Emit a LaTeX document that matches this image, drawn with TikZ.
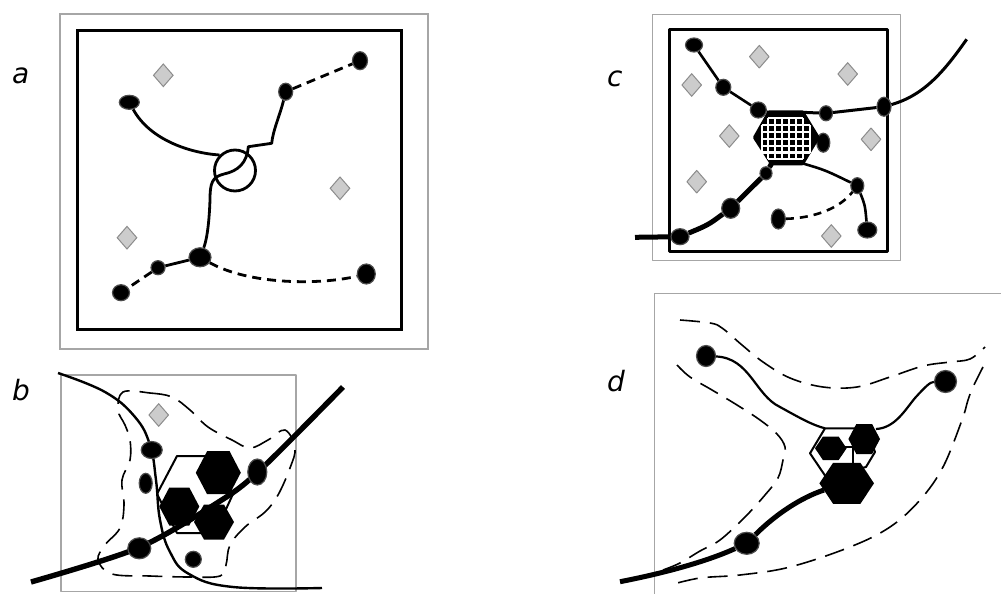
\documentclass[tikz,border=0pt]{standalone}
\usepackage{fontspec}
\setsansfont{DejaVu Sans}
\usetikzlibrary{shapes.geometric}
\newlength{\du}
\setlength{\du}{0.5pt}
\definecolor{spotgray}{rgb}{0.800000, 0.800000, 0.800000}
\definecolor{spotedge}{rgb}{0.550000, 0.550000, 0.550000}
\definecolor{framegray}{rgb}{0.650000, 0.650000, 0.650000}
\tikzset{
  blob/.style={ellipse, fill=black, draw=black!70, line width=1.200000\du, inner sep=0pt},
  spot/.style={diamond, fill=spotgray, draw=spotedge, line width=1.000000\du, inner sep=0pt,
    minimum width=20.000000\du, minimum height=23.000000\du},
  hubring/.style={circle, draw=black, line width=2.800000\du, inner sep=0pt, minimum size=41.000000\du},
  panelname/.style={font=\sffamily\itshape\fontsize{14}{16}\selectfont, inner sep=0pt, anchor=base west},
}
\begin{document}
\begin{tikzpicture}
\pgftransformxscale{1.000000}
\pgftransformyscale{-1.000000}
\useasboundingbox (0\du,0\du) rectangle (1001\du,594\du);
% setfont left to latex
\node[panelname] (labela) at (11.700000\du,83.300000\du) {a};
\node[panelname] (labelb) at (11.700000\du,400.000000\du) {b};
\node[panelname] (labelc) at (606.700000\du,86.000000\du) {c};
\node[panelname] (labeld) at (606.700000\du,391.700000\du) {d};
%%%%%%%%%%%%%%%%%%%%%%%%%%%%%%%% panel a
\pgfsetdash{}{0pt}
\pgfsetlinewidth{1.200000\du}
\draw[framegray] (60.000000\du,14.000000\du) rectangle (428.000000\du,349.000000\du);
\pgfsetlinewidth{3.000000\du}
\pgfsetmiterjoin
\draw[black] (77.700000\du,30.000000\du) rectangle (401.700000\du,329.300000\du);
\node[spot] (aspot1) at (163.300000\du,75.300000\du) {};
\node[spot] (aspot2) at (340.000000\du,188.300000\du) {};
\node[spot] (aspot3) at (127.000000\du,237.700000\du) {};
\node[hubring] (ahub) at (235.000000\du,170.500000\du) {};
\node[blob, minimum width=20\du, minimum height=14\du] (aroot1) at (129.300000\du,102.300000\du) {};
\node[blob, minimum width=15\du, minimum height=18\du] (aroot2) at (360.000000\du,60.700000\du) {};
\node[blob, minimum width=14\du, minimum height=17\du] (aroot3) at (285.700000\du,91.700000\du) {};
\node[blob, minimum width=14\du, minimum height=14\du] (aroot4) at (158.000000\du,267.700000\du) {};
\node[blob, minimum width=22\du, minimum height=19\du] (aroot5) at (200.000000\du,257.300000\du) {};
\node[blob, minimum width=17\du, minimum height=16\du] (aroot6) at (121.000000\du,292.700000\du) {};
\node[blob, minimum width=18\du, minimum height=20\du] (aroot7) at (366.300000\du,274.000000\du) {};
\coordinate (aknee) at (271.700000\du,143.300000\du);
\coordinate (aentry) at (248.300000\du,146.700000\du);
\pgfsetlinewidth{2.800000\du}
\pgfsetroundjoin
{
\draw[black] (aroot1) .. controls (150.000000\du,140.000000\du) and (190.000000\du,153.000000\du) .. (ahub.135);
}
{
\draw[black] (aroot3) .. controls (280.000000\du,115.000000\du) and (273.000000\du,130.000000\du) .. (aknee) -- (aentry)
  .. controls (247.000000\du,163.000000\du) and (238.000000\du,171.000000\du) .. (224.000000\du,174.000000\du)
  .. controls (212.000000\du,177.000000\du) and (210.000000\du,183.000000\du) .. (210.000000\du,200.000000\du)
  .. controls (209.000000\du,228.000000\du) and (206.000000\du,242.000000\du) .. (aroot5);
}
{
\draw[black] (aroot5) -- (aroot4);
}
\pgfsetdash{{9.000000\du}{6.000000\du}}{0\du}
{
\draw[black] (aroot4) -- (aroot6);
\draw[black] (aroot5) .. controls (250.000000\du,285.000000\du) and (320.000000\du,285.000000\du) .. (aroot7);
\draw[black] (aroot3) -- (aroot2);
}
\pgfsetdash{}{0pt}
%%%%%%%%%%%%%%%%%%%%%%%%%%%%%%%% panel b
\pgfsetlinewidth{1.200000\du}
\draw[framegray] (61.000000\du,375.000000\du) rectangle (296.000000\du,591.700000\du);
\pgfsetlinewidth{1.600000\du}
\pgfsetdash{{20.000000\du}{10.000000\du}}{0\du}
\draw[black] plot[smooth cycle, tension=0.6] coordinates {(123\du,392\du) (150\du,393\du) (172\du,397\du) (190\du,410\du)
  (208\du,427\du) (232\du,440\du) (250\du,448\du) (268\du,440\du) (285\du,430\du) (295\du,448\du) (290\du,468\du)
  (278\du,495\du) (265\du,512\du) (245\du,527\du) (230\du,545\du) (226\du,565\du) (220\du,576\du) (190\du,577\du)
  (150\du,576\du) (112\du,574\du) (98\du,560\du) (105\du,545\du) (120\du,528\du) (124\du,505\du) (122\du,480\du)
  (130\du,460\du) (130\du,440\du) (125\du,425\du) (118\du,410\du)};
\pgfsetdash{}{0pt}
\pgfsetlinewidth{2.000000\du}
\draw[black] (157.000000\du,494.000000\du) -- (177.000000\du,456.000000\du) -- (215.000000\du,456.000000\du)
  -- (233.000000\du,494.000000\du) -- (215.000000\du,533.000000\du) -- (177.000000\du,533.000000\du) -- cycle;
\fill[black] (195.800000\du,472.700000\du) -- (207.100000\du,451.200000\du) -- (229.600000\du,451.200000\du)
  -- (240.800000\du,472.700000\du) -- (229.600000\du,494.200000\du) -- (207.100000\du,494.200000\du) -- cycle;
\fill[black] (159.300000\du,506.500000\du) -- (169.300000\du,487.500000\du) -- (189.300000\du,487.500000\du)
  -- (199.300000\du,506.500000\du) -- (189.300000\du,525.500000\du) -- (169.300000\du,525.500000\du) -- cycle;
\fill[black] (194.000000\du,522.000000\du) -- (204.000000\du,504.500000\du) -- (224.000000\du,504.500000\du)
  -- (234.000000\du,522.000000\du) -- (224.000000\du,539.500000\du) -- (204.000000\du,539.500000\du) -- cycle;
\pgfsetlinewidth{2.400000\du}
\draw[black] plot[smooth, tension=0.7] coordinates {(58\du,373\du) (105\du,392\du) (135\du,417\du) (150\du,445\du)
  (156\du,480\du) (160\du,520\du) (170\du,552\du) (189\du,574\du) (233\du,587\du) (322\du,588\du)};
\pgfsetlinewidth{5.400000\du}
\draw[black] plot[smooth] coordinates {(31\du,582\du) (138\du,548\du) (217\du,503\du) (258\du,472\du) (343\du,387\du)};
\node[spot] (bspot) at (158.700000\du,415.000000\du) {};
\node[blob, minimum width=21\du, minimum height=17\du] (bdot1) at (151.700000\du,450.000000\du) {};
\node[blob, minimum width=13\du, minimum height=20\du] (bdot2) at (145.700000\du,483.300000\du) {};
\node[blob, minimum width=23\du, minimum height=21\du] (bdot3) at (139.300000\du,548.300000\du) {};
\node[blob, minimum width=16\du, minimum height=16\du] (bdot4) at (193.300000\du,559.300000\du) {};
\node[blob, minimum width=19\du, minimum height=26\du] (bdot5) at (257.300000\du,472.000000\du) {};
%%%%%%%%%%%%%%%%%%%%%%%%%%%%%%%% panel c
\pgfsetlinewidth{1.200000\du}
\draw[framegray] (652.700000\du,14.300000\du) rectangle (900.700000\du,260.700000\du);
\pgfsetlinewidth{3.000000\du}
\draw[black] (669.300000\du,29.300000\du) rectangle (887.700000\du,251.700000\du);
\node[spot] (cspot1) at (759.300000\du,56.700000\du) {};
\node[spot] (cspot2) at (691.700000\du,85.000000\du) {};
\node[spot] (cspot3) at (847.700000\du,74.000000\du) {};
\node[spot] (cspot4) at (729.300000\du,136.000000\du) {};
\node[spot] (cspot5) at (871.000000\du,139.300000\du) {};
\node[spot] (cspot6) at (696.700000\du,181.700000\du) {};
\node[spot] (cspot7) at (831.300000\du,236.000000\du) {};
\node[blob, minimum width=17\du, minimum height=14\du] (cnode1) at (694.000000\du,45.000000\du) {};
\node[blob, minimum width=15\du, minimum height=16\du] (cnode2) at (723.300000\du,87.300000\du) {};
\node[blob, minimum width=16\du, minimum height=16\du] (cnode3) at (758.300000\du,110.000000\du) {};
\node[blob, minimum width=13\du, minimum height=15\du] (cnode4) at (826.000000\du,113.300000\du) {};
\node[blob, minimum width=14\du, minimum height=19\du] (cnode5) at (884.000000\du,106.700000\du) {};
\node[blob, minimum width=13\du, minimum height=19\du] (cnode6) at (823.300000\du,142.700000\du) {};
\node[blob, minimum width=12\du, minimum height=13\du] (cnode7) at (766.000000\du,173.300000\du) {};
\node[blob, minimum width=18\du, minimum height=20\du] (cnode8) at (730.700000\du,208.300000\du) {};
\node[blob, minimum width=18\du, minimum height=16\du] (cnode9) at (680.000000\du,236.700000\du) {};
\node[blob, minimum width=14\du, minimum height=20\du] (cnode10) at (778.300000\du,219.000000\du) {};
\node[blob, minimum width=13\du, minimum height=16\du] (cnode11) at (857.300000\du,185.700000\du) {};
\node[blob, minimum width=19\du, minimum height=16\du] (cnode12) at (867.300000\du,230.000000\du) {};
\coordinate (chexTL) at (769.300000\du,112.300000\du);
\coordinate (chexTR) at (802.300000\du,112.300000\du);
\coordinate (chexBL) at (771.700000\du,163.300000\du);
\coordinate (chexBR) at (802.300000\du,163.300000\du);
\coordinate (cfar) at (966.700000\du,39.300000\du);
\coordinate (cedge) at (635.000000\du,237.300000\du);
\pgfsetlinewidth{2.600000\du}
{
\draw[black] (cnode1) -- (cnode2) -- (cnode3) -- (chexTL);
\draw[black] (chexBR) .. controls (825.000000\du,170.000000\du) .. (cnode11) .. controls (865.000000\du,205.000000\du) .. (cnode12);
}
\pgfsetlinewidth{3.000000\du}
{
\draw[black] (chexTR) -- (cnode4) -- (cnode5) .. controls (925.000000\du,95.000000\du) and (945.000000\du,70.000000\du) .. (cfar);
}
\pgfsetlinewidth{5.000000\du}
{
\draw[black] (chexBL) -- (cnode7) -- (cnode8) .. controls (708.000000\du,225.000000\du) .. (cnode9) -- (cedge);
}
\pgfsetlinewidth{2.600000\du}
\pgfsetdash{{8.000000\du}{6.000000\du}}{0\du}
{
\draw[black] (cnode10) .. controls (815.000000\du,218.000000\du) and (840.000000\du,208.000000\du) .. (cnode11);
}
\pgfsetdash{}{0pt}
\pgfsetlinewidth{4.000000\du}
\filldraw[fill=black, draw=black] (755.000000\du,137.500000\du) -- (chexTL) -- (chexTR) -- (817.700000\du,137.500000\du)
  -- (chexBR) -- (chexBL) -- cycle;
\pgfsetlinewidth{2.200000\du}
\pgfsetbuttcap
\draw[white] (768.300000\du,118.300000\du) -- (768.300000\du,159.000000\du);
\draw[white] (775.300000\du,118.300000\du) -- (775.300000\du,159.000000\du);
\draw[white] (782.300000\du,118.300000\du) -- (782.300000\du,159.000000\du);
\draw[white] (789.300000\du,118.300000\du) -- (789.300000\du,159.000000\du);
\draw[white] (796.300000\du,118.300000\du) -- (796.300000\du,159.000000\du);
\draw[white] (803.300000\du,118.300000\du) -- (803.300000\du,159.000000\du);
\draw[white] (762.300000\du,125.300000\du) -- (762.300000\du,152.500000\du);
\draw[white] (810.000000\du,125.300000\du) -- (810.000000\du,152.500000\du);
\draw[white] (768.300000\du,118.300000\du) -- (803.300000\du,118.300000\du);
\draw[white] (762.300000\du,125.300000\du) -- (810.000000\du,125.300000\du);
\draw[white] (762.300000\du,132.100000\du) -- (810.000000\du,132.100000\du);
\draw[white] (762.300000\du,138.900000\du) -- (810.000000\du,138.900000\du);
\draw[white] (762.300000\du,145.700000\du) -- (810.000000\du,145.700000\du);
\draw[white] (762.300000\du,152.500000\du) -- (810.000000\du,152.500000\du);
\draw[white] (768.300000\du,159.000000\du) -- (803.300000\du,159.000000\du);
%%%%%%%%%%%%%%%%%%%%%%%%%%%%%%%% panel d
\pgfsetlinewidth{1.200000\du}
\pgfsetmiterjoin
\draw[framegray] (654.300000\du,594.000000\du) -- (654.300000\du,293.300000\du) -- (1001.000000\du,293.300000\du);
\pgfsetlinewidth{1.600000\du}
\pgfsetdash{{20.000000\du}{10.000000\du}}{0\du}
\draw[black] plot[smooth, tension=0.6] coordinates {(680\du,320\du) (710\du,323\du) (722\du,328\du) (742\du,345\du)
  (763\du,362\du) (790\du,378\du) (823\du,387\du) (857\du,387\du) (890\du,377\du) (923\du,366\du) (950\du,362\du)
  (970\du,359\du) (985\du,347\du)};
\draw[black] plot[smooth, tension=0.6] coordinates {(983\du,367\du) (973\du,387\du) (968\du,400\du) (962\du,420\du)
  (943\du,467\du) (920\du,500\du) (890\du,527\du) (850\du,547\du) (790\du,567\du) (740\du,575\du) (700\du,578\du)
  (670\du,585\du)};
\draw[black] plot[smooth, tension=0.6] coordinates {(677\du,365\du) (690\du,377\du) (712\du,390\du) (737\du,405\du)
  (760\du,420\du) (777\du,434\du) (785\du,447\du) (783\du,460\du) (778\du,478\du) (765\du,495\du) (745\du,517\du)
  (720\du,540\du) (700\du,551\du) (680\du,563\du) (663\du,570\du)};
\pgfsetdash{}{0pt}
\coordinate (dhexTL) at (825.000000\du,428.300000\du);
\coordinate (dhexTR) at (876.000000\du,429.000000\du);
\coordinate (dhexlow) at (824.000000\du,490.000000\du);
\coordinate (dedge) at (620.000000\du,581.700000\du);
\node[blob, minimum width=19\du, minimum height=21\du] (ddot1) at (706.000000\du,356.000000\du) {};
\node[blob, minimum width=22\du, minimum height=22\du] (ddot2) at (945.500000\du,381.500000\du) {};
\node[blob, minimum width=25\du, minimum height=22\du] (ddot3) at (746.700000\du,543.300000\du) {};
\pgfsetlinewidth{2.200000\du}
\pgfsetroundjoin
{
\draw[black] (ddot1) .. controls (750.000000\du,358.000000\du) and (755.000000\du,395.000000\du) .. (780.000000\du,407.000000\du)
  .. controls (800.000000\du,418.000000\du) and (812.000000\du,425.000000\du) .. (dhexTL);
\draw[black] (dhexTR) .. controls (895.000000\du,428.000000\du) and (905.000000\du,410.000000\du) .. (915.000000\du,398.000000\du)
  .. controls (925.000000\du,387.000000\du) and (930.000000\du,382.000000\du) .. (ddot2);
}
\pgfsetlinewidth{5.000000\du}
{
\draw[black] (dhexlow) .. controls (800.000000\du,498.000000\du) and (775.000000\du,515.000000\du) .. (ddot3)
  .. controls (710.000000\du,560.000000\du) and (670.000000\du,572.000000\du) .. (dedge);
}
\pgfsetlinewidth{2.000000\du}
\draw[black] (dhexTL) -- (866.000000\du,428.300000\du) -- (875.000000\du,452.000000\du) -- (866.000000\du,467.000000\du)
  -- (826.000000\du,477.000000\du) -- (810.000000\du,453.300000\du) -- cycle;
\draw[black] (840.000000\du,446.700000\du) -- (853.300000\du,446.700000\du) -- (853.300000\du,463.000000\du);
\fill[black] (815.000000\du,448.300000\du) -- (822.900000\du,436.600000\du) -- (838.700000\du,436.600000\du)
  -- (846.600000\du,448.300000\du) -- (838.700000\du,460.000000\du) -- (822.900000\du,460.000000\du) -- cycle;
\fill[black] (848.400000\du,439.000000\du) -- (856.300000\du,424.000000\du) -- (872.100000\du,424.000000\du)
  -- (880.000000\du,439.000000\du) -- (872.100000\du,454.000000\du) -- (856.300000\du,454.000000\du) -- cycle;
\fill[black] (819.400000\du,483.300000\du) -- (833.100000\du,462.800000\du) -- (860.400000\du,462.800000\du)
  -- (874.000000\du,483.300000\du) -- (860.400000\du,503.800000\du) -- (833.100000\du,503.800000\du) -- cycle;
\end{tikzpicture}
\end{document}
